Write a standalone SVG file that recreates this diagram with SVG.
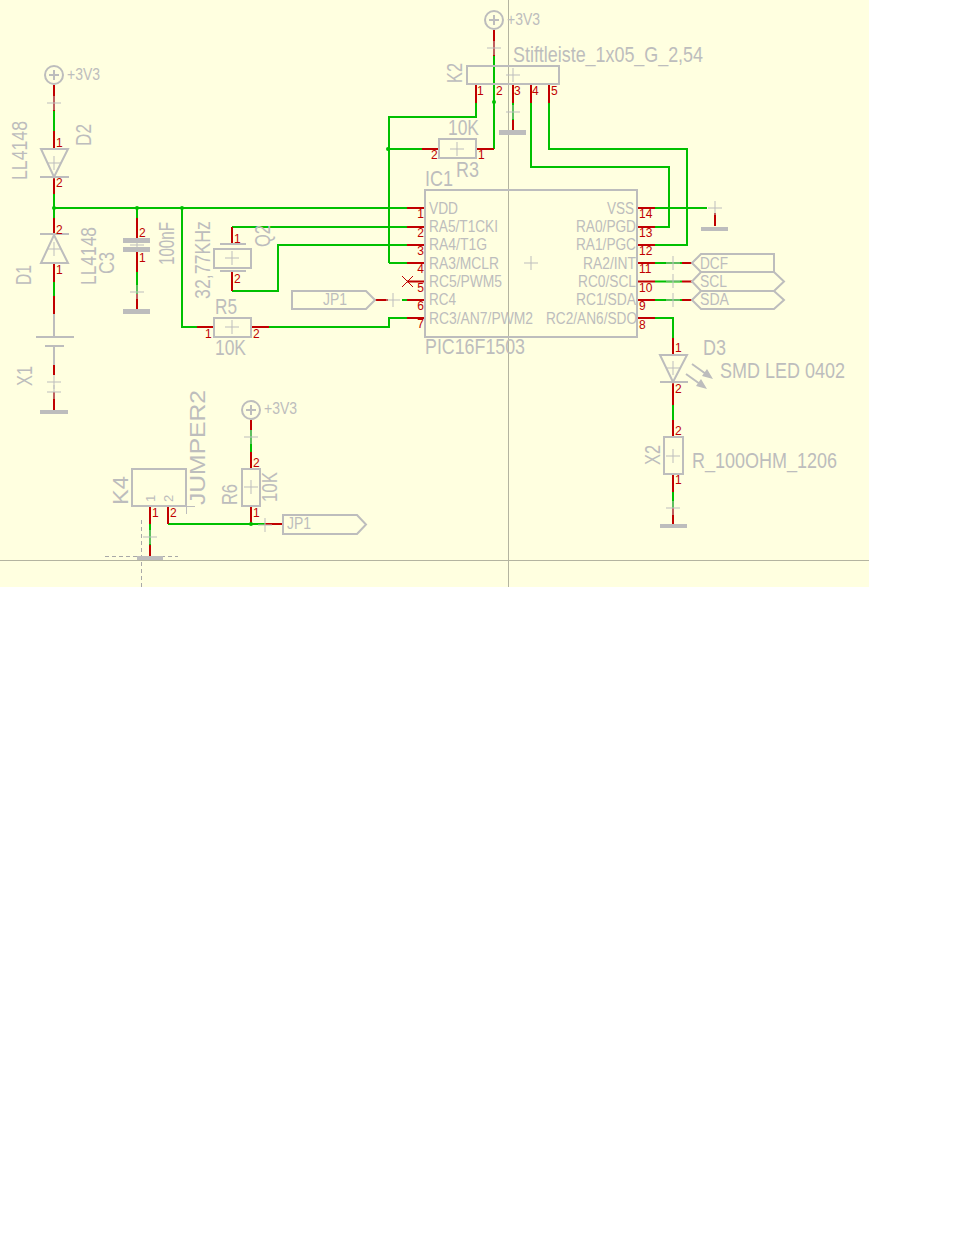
<svg xmlns="http://www.w3.org/2000/svg" xmlns:xlink="http://www.w3.org/1999/xlink" width="956" height="1240" viewBox="0 0 956 1240">
<style>
text{font-family:"Liberation Sans",Arial,sans-serif}
.l{fill:#bdbdbd;font-size:22px}
.m{fill:#bdbdbd;font-size:16px}
.k{fill:#bdbdbd;font-size:13px}
.n{fill:#c00000;font-size:12px}
.e{text-anchor:end}
.w{fill:none;stroke:#00c000;stroke-width:2}
.p{fill:none;stroke:#c00000;stroke-width:2}
.t{fill:none;stroke:#c00000;stroke-width:1}
.g{fill:none;stroke:#bdbdbd;stroke-width:2}
.h{stroke:#bdbdbd;stroke-width:1;fill:none}
.f{fill:#bdbdbd}
.a{stroke:#b4b4a0;stroke-width:1;fill:none}
.d{stroke:#a8a8a8;stroke-width:1;fill:none;stroke-dasharray:4 3}
</style>
<defs>
<path id="x" class="h" d="M-7 0H7M0-7V7"/>
<circle id="s" class="g" r="9"/>
</defs>
<rect width="956" height="1240" fill="#fff"/>
<rect width="869" height="587" fill="#ffffe0"/>
<path class="a" d="M0 560.500H869M508.500 0V587"/>
<path class="d" d="M105 556.500H178M141.500 520V587"/>

<g id="connectors">
<path class="w" d="M54 111V131M54 194V208M54 208H407M54 208V218M54 282V296M137 208V218M137 272V294M182 208V327H197M269 327H389V318H407M232 227H407M232 291H278V245H407M389 263H407M389 263V117H476V103M388 149H422M494 56V149M513 103V120M531 103V167H669V227H655M549 103V149H687V245H655M655 208H707M655 263H682M655 281.500H682M655 300H682M655 318H673V338M673 405V420M673 492V508M150 524V545M168 524H265M251 430V452M402 300H407"/>
<path class="p" d="M54 85V111M54 131V148M54 177V194M54 218V234M54 263V282M54 296V314M54 365V375M54 392V410M137 218V240M137 249V272M137 294V309M197 327H213M251 327H269M232 227V244M232 272V291M407 208H424M407 227H424M407 245H424M407 263H424M407 281.500H424M407 300H424M407 318H424M375 300H388M476 85V103M494 30V56M513 85V103M513 120V130M531 85V103M549 85V103M422 149H438M476 149H494M638 208H655M638 227H655M638 245H655M638 263H655M638 281.500H655M638 300H655M638 318H655M682 263H692M682 281.500H692M682 300H692M715 213V226M673 338V354M673 382V405M673 420V437M673 474V492M673 508V524M150 507V524M150 545V556M168 507V524M251 420V430M251 452V468M251 506V524M265 524H282"/>
<path class="t" d="M402 276L413 287M413 276L402 287"/>
<g fill="#00c000"><circle cx="54" cy="208" r="2"/><circle cx="137" cy="208" r="2"/><circle cx="182" cy="208" r="2"/><circle cx="388" cy="149" r="2"/><circle cx="494" cy="102" r="2"/><circle cx="251" cy="524" r="2"/></g>
</g>

<g id="sup1"><use xlink:href="#s" x="54" y="75"/><path class="g" d="M49 75H59M54 70V80"/><text class="m" x="67" y="80" textLength="33" lengthAdjust="spacingAndGlyphs">+3V3</text><use xlink:href="#x" x="54" y="103"/></g>
<g id="sup2"><use xlink:href="#s" x="494" y="20"/><path class="g" d="M489 20H499M494 15V25"/><text class="m" x="507" y="25" textLength="33" lengthAdjust="spacingAndGlyphs">+3V3</text><use xlink:href="#x" x="494" y="48"/></g>
<g id="sup3"><use xlink:href="#s" x="251" y="410"/><path class="g" d="M246 410H256M251 405V415"/><text class="m" x="264" y="414" textLength="33" lengthAdjust="spacingAndGlyphs">+3V3</text><use xlink:href="#x" x="251" y="437"/></g>

<g id="D2"><path class="g" d="M41 149H68L54 177ZM40 177H69"/><use xlink:href="#x" x="54" y="163"/>
<text class="l" transform="translate(27 180) rotate(-90)" textLength="59" lengthAdjust="spacingAndGlyphs">LL4148</text>
<text class="l" transform="translate(91 146) rotate(-90)" textLength="22" lengthAdjust="spacingAndGlyphs">D2</text>
<text class="n" x="56" y="147">1</text><text class="n" x="56" y="187">2</text></g>

<g id="D1"><path class="g" d="M41 263H68L54 235ZM40 234H69"/><use xlink:href="#x" x="54" y="249"/>
<text class="l" transform="translate(31 285) rotate(-90)" textLength="20" lengthAdjust="spacingAndGlyphs">D1</text>
<text class="l" transform="translate(96 285) rotate(-90)" textLength="58" lengthAdjust="spacingAndGlyphs">LL4148</text>
<text class="n" x="56" y="234">2</text><text class="n" x="56" y="274">1</text></g>

<g id="X1"><path class="g" d="M54 314V337M36 337H74M45 346H64M54 346V365"/><use xlink:href="#x" x="54" y="382"/><use xlink:href="#x" x="54" y="392"/>
<text class="l" transform="translate(32 386) rotate(-90)" textLength="20" lengthAdjust="spacingAndGlyphs">X1</text>
<rect class="f" x="40" y="410" width="28" height="4"/></g>

<g id="C3"><rect class="f" x="123" y="238" width="27" height="5"/><rect class="f" x="123" y="247" width="27" height="5"/><use xlink:href="#x" x="137" y="245"/><use xlink:href="#x" x="137" y="292"/>
<text class="l" transform="translate(114 274) rotate(-90)" textLength="22" lengthAdjust="spacingAndGlyphs">C3</text>
<text class="l" transform="translate(174 265) rotate(-90)" textLength="43" lengthAdjust="spacingAndGlyphs">100nF</text>
<text class="n" x="139" y="237">2</text><text class="n" x="139" y="262">1</text>
<rect class="f" x="123" y="309" width="27" height="5"/></g>

<g id="Q2"><rect class="g" x="214" y="249" width="37" height="19"/><path class="g" d="M220 244H246M220 271H246"/><use xlink:href="#x" x="232" y="258"/>
<text class="l" transform="translate(210 299) rotate(-90)" textLength="78" lengthAdjust="spacingAndGlyphs">32,77KHz</text>
<text class="l" transform="translate(270 247) rotate(-90)" textLength="22" lengthAdjust="spacingAndGlyphs">Q2</text>
<text class="n" x="234" y="243">1</text><text class="n" x="234" y="283">2</text></g>

<g id="R5"><rect class="g" x="214" y="318" width="37" height="19"/><use xlink:href="#x" x="232" y="327"/>
<text class="l" x="215" y="314" textLength="22" lengthAdjust="spacingAndGlyphs">R5</text>
<text class="l" x="215" y="355" textLength="31" lengthAdjust="spacingAndGlyphs">10K</text>
<text class="n" x="205" y="338">1</text><text class="n" x="253" y="338">2</text></g>

<g id="K2"><rect class="g" x="467" y="66" width="92" height="18"/><use xlink:href="#x" x="513" y="75"/><use xlink:href="#x" x="513" y="112"/>
<text class="l" x="513" y="62" textLength="190" lengthAdjust="spacingAndGlyphs">Stiftleiste_1x05_G_2,54</text>
<text class="l" transform="translate(462 83) rotate(-90)" textLength="20" lengthAdjust="spacingAndGlyphs">K2</text>
<text class="n" x="477" y="95">1</text><text class="n" x="496" y="95">2</text><text class="n" x="514" y="95">3</text><text class="n" x="532" y="95">4</text><text class="n" x="551" y="95">5</text>
<rect class="f" x="499" y="130" width="27" height="5"/></g>

<g id="R3"><rect class="g" x="439" y="139" width="37" height="19"/><use xlink:href="#x" x="457" y="149"/>
<text class="l" x="448" y="135" textLength="31" lengthAdjust="spacingAndGlyphs">10K</text>
<text class="l" x="456" y="177" textLength="23" lengthAdjust="spacingAndGlyphs">R3</text>
<text class="n" x="431" y="159">2</text><text class="n" x="478" y="159">1</text></g>

<g id="IC1"><rect class="g" x="425" y="190" width="212" height="147"/><use xlink:href="#x" x="531" y="263"/>
<text class="l" x="425" y="186" textLength="28" lengthAdjust="spacingAndGlyphs">IC1</text>
<text class="l" x="425" y="354" textLength="100" lengthAdjust="spacingAndGlyphs">PIC16F1503</text>
<text class="m" x="429" y="214" textLength="29" lengthAdjust="spacingAndGlyphs">VDD</text>
<text class="m" x="429" y="232" textLength="69" lengthAdjust="spacingAndGlyphs">RA5/T1CKI</text>
<text class="m" x="429" y="250" textLength="58" lengthAdjust="spacingAndGlyphs">RA4/T1G</text>
<text class="m" x="429" y="269" textLength="70" lengthAdjust="spacingAndGlyphs">RA3/MCLR</text>
<text class="m" x="429" y="287" textLength="73" lengthAdjust="spacingAndGlyphs">RC5/PWM5</text>
<text class="m" x="429" y="305" textLength="27" lengthAdjust="spacingAndGlyphs">RC4</text>
<text class="m" x="429" y="324" textLength="104" lengthAdjust="spacingAndGlyphs">RC3/AN7/PWM2</text>
<text class="m" x="607" y="214" textLength="27" lengthAdjust="spacingAndGlyphs">VSS</text>
<text class="m" x="576" y="232" textLength="60" lengthAdjust="spacingAndGlyphs">RA0/PGD</text>
<text class="m" x="576" y="250" textLength="60" lengthAdjust="spacingAndGlyphs">RA1/PGC</text>
<text class="m" x="583" y="269" textLength="53" lengthAdjust="spacingAndGlyphs">RA2/INT</text>
<text class="m" x="578" y="287" textLength="58" lengthAdjust="spacingAndGlyphs">RC0/SCL</text>
<text class="m" x="576" y="305" textLength="60" lengthAdjust="spacingAndGlyphs">RC1/SDA</text>
<text class="m" x="546" y="324" textLength="91" lengthAdjust="spacingAndGlyphs">RC2/AN6/SDO</text>
<g class="n e"><text x="424" y="218">1</text><text x="424" y="237">2</text><text x="424" y="255">3</text><text x="424" y="273">4</text><text x="424" y="292">5</text><text x="424" y="310">6</text><text x="424" y="328">7</text></g>
<g class="n"><text x="639" y="218">14</text><text x="639" y="237">13</text><text x="639" y="255">12</text><text x="639" y="273">11</text><text x="639" y="292">10</text><text x="639" y="310">9</text><text x="639" y="329">8</text></g></g>

<g id="GND14"><use xlink:href="#x" x="715" y="208"/><rect class="f" x="701" y="227" width="27" height="4"/></g>
<g id="DCF"><path class="g" d="M692 263L701 254H774V272H701Z"/><use xlink:href="#x" x="673" y="263"/><text class="m" x="700" y="269" textLength="28" lengthAdjust="spacingAndGlyphs">DCF</text></g>
<g id="SCL"><path class="g" d="M692 281.500L701 272H774L784 281.500L774 291H701Z"/><use xlink:href="#x" x="673" y="281"/><text class="m" x="700" y="287" textLength="27" lengthAdjust="spacingAndGlyphs">SCL</text></g>
<g id="SDA"><path class="g" d="M692 300L701 291H774L784 300L774 309H701Z"/><use xlink:href="#x" x="673" y="300"/><text class="m" x="700" y="305" textLength="29" lengthAdjust="spacingAndGlyphs">SDA</text></g>
<g id="JP1in"><path class="g" d="M292 291H366L375 300L366 309H292Z"/><use xlink:href="#x" x="393" y="300"/><text class="m" x="323" y="305" textLength="24" lengthAdjust="spacingAndGlyphs">JP1</text></g>

<g id="D3"><path class="g" d="M660 355H687L673 382ZM660 382H688"/><use xlink:href="#x" x="673" y="368"/>
<path class="g" d="M692 364L706 374M686 374L700 384"/>
<path class="f" d="M713 379L702 376L707 369ZM707 389L696 386L701 379Z"/>
<text class="l" x="703" y="355" textLength="23" lengthAdjust="spacingAndGlyphs">D3</text>
<text class="l" x="720" y="378" textLength="125" lengthAdjust="spacingAndGlyphs">SMD LED 0402</text>
<text class="n" x="675" y="352">1</text><text class="n" x="675" y="393">2</text></g>

<g id="X2"><rect class="g" x="664" y="437" width="19" height="37"/><use xlink:href="#x" x="673" y="456"/><use xlink:href="#x" x="673" y="508"/>
<text class="l" transform="translate(660 465) rotate(-90)" textLength="20" lengthAdjust="spacingAndGlyphs">X2</text>
<text class="l" x="692" y="468" textLength="145" lengthAdjust="spacingAndGlyphs">R_100OHM_1206</text>
<text class="n" x="675" y="435">2</text><text class="n" x="675" y="484">1</text>
<rect class="f" x="660" y="524" width="27" height="4"/></g>

<g id="K4"><rect class="g" x="132" y="469" width="54" height="37"/><path class="h" d="M186 506.500H195M186.500 506V514"/><use xlink:href="#x" x="150" y="537"/>
<text class="l" transform="translate(128 505) rotate(-90)" textLength="29" lengthAdjust="spacingAndGlyphs">K4</text>
<text class="l" transform="translate(205 505) rotate(-90)" textLength="115" lengthAdjust="spacingAndGlyphs">JUMPER2</text>
<text class="k" transform="translate(155 502) rotate(-90)">1</text>
<text class="k" transform="translate(173 502) rotate(-90)">2</text>
<text class="n" x="152" y="517">1</text><text class="n" x="170" y="517">2</text>
<rect class="f" x="137" y="556" width="26" height="4"/></g>

<g id="R6"><rect class="g" x="242" y="469" width="18" height="37"/><use xlink:href="#x" x="251" y="487"/>
<text class="l" transform="translate(237 505) rotate(-90)" textLength="21" lengthAdjust="spacingAndGlyphs">R6</text>
<text class="l" transform="translate(277 502) rotate(-90)" textLength="30" lengthAdjust="spacingAndGlyphs">10K</text>
<text class="n" x="253" y="467">2</text><text class="n" x="253" y="517">1</text></g>

<g id="JP1out"><path class="g" d="M283 515H357L366 524.500L357 534H283Z"/><use xlink:href="#x" x="265" y="525"/><text class="m" x="287" y="529" textLength="24" lengthAdjust="spacingAndGlyphs">JP1</text></g>
</svg>
